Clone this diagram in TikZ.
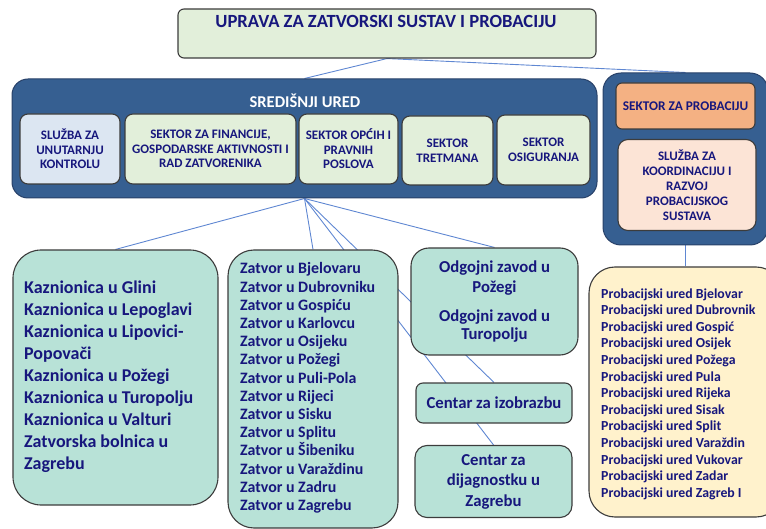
\documentclass[tikz,border=0pt]{standalone}
\usepackage{fontspec}
\setmainfont{Carlito}
\usetikzlibrary{backgrounds}
\definecolor{navy}{RGB}{23,23,125}
\definecolor{conn}{RGB}{95,135,210}
\definecolor{dblue}{RGB}{54,95,145}
\definecolor{dbline}{RGB}{40,65,105}
\definecolor{lgreen}{RGB}{226,239,218}
\definecolor{lblue}{RGB}{220,230,242}
\definecolor{mint}{RGB}{184,226,215}
\definecolor{orng}{RGB}{244,177,131}
\definecolor{peach}{RGB}{252,228,214}
\definecolor{lyell}{RGB}{255,242,204}
\definecolor{bline}{RGB}{60,60,60}
\tikzset{
  box/.style={draw=bline, line width=1.1pt, inner sep=0pt, align=center, text=navy},
  bluebox/.style={draw=dbline, fill=dblue, line width=1pt, inner sep=0pt},
  connline/.style={draw=conn, line width=0.9pt},
  small/.style={font=\bfseries\fontsize{13}{14.5}\selectfont},
  listtxt/.style={inner sep=0pt, align=left, text=navy, anchor=west},
}
\begin{document}
\begin{tikzpicture}[x=1pt,y=-1pt]
\useasboundingbox (0,0) rectangle (766,529);
\clip (0,0) rectangle (766,529);
% top
\node[box, fill=lgreen, minimum width=418pt, minimum height=49pt, rounded corners=6pt] (top) at (387,33.5) {};
\node[text=navy, inner sep=0pt, font=\bfseries\fontsize{18.6}{20}\selectfont] (toptext) at (386,21) {UPRAVA ZA ZATVORSKI SUSTAV I PROBACIJU};
% sredisnji ured
\node[bluebox, minimum width=585pt, minimum height=119pt, rounded corners=16pt] (sred) at (304.5,138.5) {};
\node[text=white, inner sep=0pt, font=\bfseries\fontsize{16.5}{18}\selectfont] (sredtext) at (305,101) {SREDIŠNJI URED};
\node[box, small, fill=lblue, minimum width=100pt, minimum height=70pt, rounded corners=8pt] (s1) at (70,149) {SLUŽBA ZA\\UNUTARNJU\\KONTROLU};
\node[box, small, fill=lgreen, minimum width=171pt, minimum height=70pt, rounded corners=8pt] (s2) at (210.5,149) {SEKTOR ZA FINANCIJE,\\GOSPODARSKE AKTIVNOSTI I\\RAD ZATVORENIKA};
\node[box, small, fill=lgreen, minimum width=99pt, minimum height=70pt, rounded corners=8pt] (s3) at (348.5,149) {SEKTOR OPĆIH I\\PRAVNIH\\POSLOVA};
\node[box, small, fill=lgreen, minimum width=91pt, minimum height=69pt, rounded corners=8pt] (s4) at (447.5,150.5) {SEKTOR\\TRETMANA};
\node[box, small, fill=lgreen, minimum width=93pt, minimum height=70pt, rounded corners=8pt] (s5) at (543.5,150) {SEKTOR\\OSIGURANJA};
% right
\node[bluebox, minimum width=165pt, minimum height=172pt, rounded corners=18pt] (rbox) at (685.5,159) {};
\node[box, fill=orng, minimum width=139pt, minimum height=46pt, rounded corners=6pt, font=\bfseries\fontsize{13.3}{15}\selectfont] (sprob) at (685.5,106) {SEKTOR ZA PROBACIJU};
\node[box, fill=peach, minimum width=138pt, minimum height=91pt, rounded corners=10pt, font=\bfseries\fontsize{13}{15}\selectfont] (skoord) at (687,185) {SLUŽBA ZA\\KOORDINACIJU I\\RAZVOJ\\PROBACIJSKOG\\SUSTAVA};
% bottom row
\node[box, fill=mint, minimum width=205pt, minimum height=255pt, rounded corners=28pt] (kaz) at (115.5,377.5) {};
\node[listtxt, font=\bfseries\fontsize{18}{22}\selectfont] (kaztext) at (24,376.5) {Kaznionica u Glini\\Kaznionica u Lepoglavi\\Kaznionica u Lipovici-\\Popovači\\Kaznionica u Požegi\\Kaznionica u Turopolju\\Kaznionica u Valturi\\Zatvorska bolnica u\\Zagrebu};
\node[box, fill=mint, minimum width=170pt, minimum height=278pt, rounded corners=26pt] (zat) at (313,389) {};
\node[listtxt, font=\bfseries\fontsize{15.9}{18.2}\selectfont] (zattext) at (240,388) {Zatvor u Bjelovaru\\Zatvor u Dubrovniku\\Zatvor u Gospiću\\Zatvor u Karlovcu\\Zatvor u Osijeku\\Zatvor u Požegi\\Zatvor u Puli-Pola\\Zatvor u Rijeci\\Zatvor u Sisku\\Zatvor u Splitu\\Zatvor u Šibeniku\\Zatvor u Varaždinu\\Zatvor u Zadru\\Zatvor u Zagrebu};
\node[box, fill=mint, minimum width=167pt, minimum height=107pt, rounded corners=18pt, font=\bfseries\fontsize{16.7}{19.5}\selectfont] (odg) at (494.5,301.5) {Odgojni zavod u\\Požegi\\[10pt]Odgojni zavod u\\[-2pt]Turopolju};
\node[box, fill=mint, minimum width=156pt, minimum height=40pt, rounded corners=7pt, font=\bfseries\fontsize{16.7}{19}\selectfont] (izo) at (494,403) {Centar za izobrazbu};
\node[box, fill=mint, minimum width=157pt, minimum height=72pt, rounded corners=12pt, font=\bfseries\fontsize{16.7}{20.5}\selectfont] (dij) at (493.5,481.5) {Centar za\\dijagnostku u\\Zagrebu};
\node[box, fill=lyell, minimum width=193pt, minimum height=250pt, rounded corners=26pt] (prob) at (685.5,392) {};
\node[listtxt, font=\bfseries\fontsize{13.8}{16.6}\selectfont] (probtext) at (601,394) {Probacijski ured Bjelovar\\Probacijski ured Dubrovnik\\Probacijski ured Gospić\\Probacijski ured Osijek\\Probacijski ured Požega\\Probacijski ured Pula\\Probacijski ured Rijeka\\Probacijski ured Sisak\\Probacijski ured Split\\Probacijski ured Varaždin\\Probacijski ured Vukovar\\Probacijski ured Zadar\\Probacijski ured Zagreb I};
% connectors
\begin{scope}[on background layer]
\draw[connline] (top.south) -- (sred.north);
\draw[connline] (top.south) -- (rbox.north);
\draw[connline] (rbox.south) -- (prob.north);
\draw[connline] (sred.south) -- (kaz.north);
\draw[connline] (sred.south) -- (zat.north);
\draw[connline] (sred.south) -- (odg.north);
\draw[connline] (sred.south) -- (izo.north);
\draw[connline] (sred.south) -- (dij.north);
\end{scope}
\end{tikzpicture}
\end{document}
